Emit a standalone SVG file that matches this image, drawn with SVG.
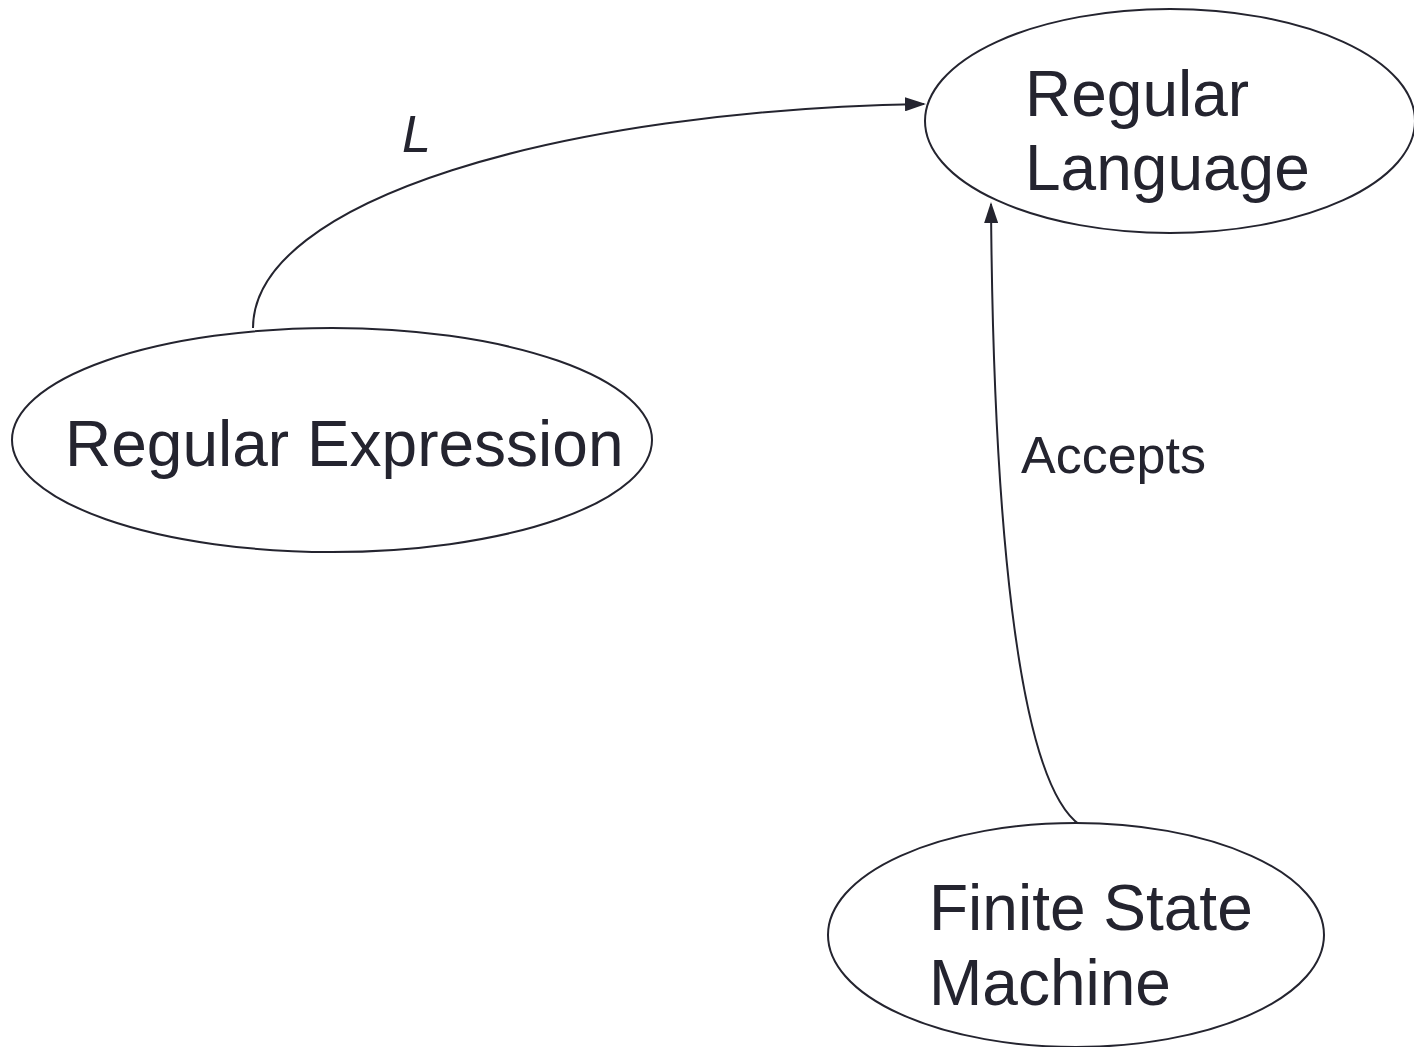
<svg xmlns="http://www.w3.org/2000/svg" width="1414" height="1047" viewBox="0 0 1414 1047">
  <style>
    .node { fill: #ffffff; stroke: #24242f; stroke-width: 2; }
    .edge { fill: none; stroke: #24242f; stroke-width: 2; marker-end: url(#arrow); }
    .label { font-family: "Liberation Sans", Arial, sans-serif; fill: #24242f; }
    .big { font-size: 64px; }
    .small { font-size: 52px; }
  </style>
  <defs>
    <!-- filled triangular arrowhead, tip sits 1px past the line end -->
    <marker id="arrow" viewBox="0 0 21 14" refX="19" refY="7" markerWidth="21" markerHeight="14" markerUnits="userSpaceOnUse" orient="auto">
      <path d="M0,0 L21,7 L0,14 Z" fill="#24242f" />
    </marker>
  </defs>
  <rect width="1414" height="1047" fill="#ffffff" />

  <g id="connectors">
    <path class="edge" d="M253,328 C253,200 560,110 924,104" />
    <text class="label small" x="402" y="152" font-style="italic">L</text>

    <path class="edge" d="M1080,825 C1015,780 993,500 991,204" />
    <text class="label small" x="1021" y="473">Accepts</text>
  </g>

  <g id="regular-language">
    <ellipse class="node" cx="1170" cy="121" rx="245" ry="112" />
    <text class="label big" x="1025" y="116">Regular</text>
    <text class="label big" x="1025" y="190">Language</text>
  </g>

  <g id="regular-expression">
    <ellipse class="node" cx="332" cy="440" rx="320" ry="112" />
    <text class="label big" x="65" y="466">Regular Expression</text>
  </g>

  <g id="finite-state-machine">
    <ellipse class="node" cx="1076" cy="935" rx="248" ry="112" />
    <text class="label big" x="929" y="930">Finite State</text>
    <text class="label big" x="929" y="1005">Machine</text>
  </g>
</svg>
